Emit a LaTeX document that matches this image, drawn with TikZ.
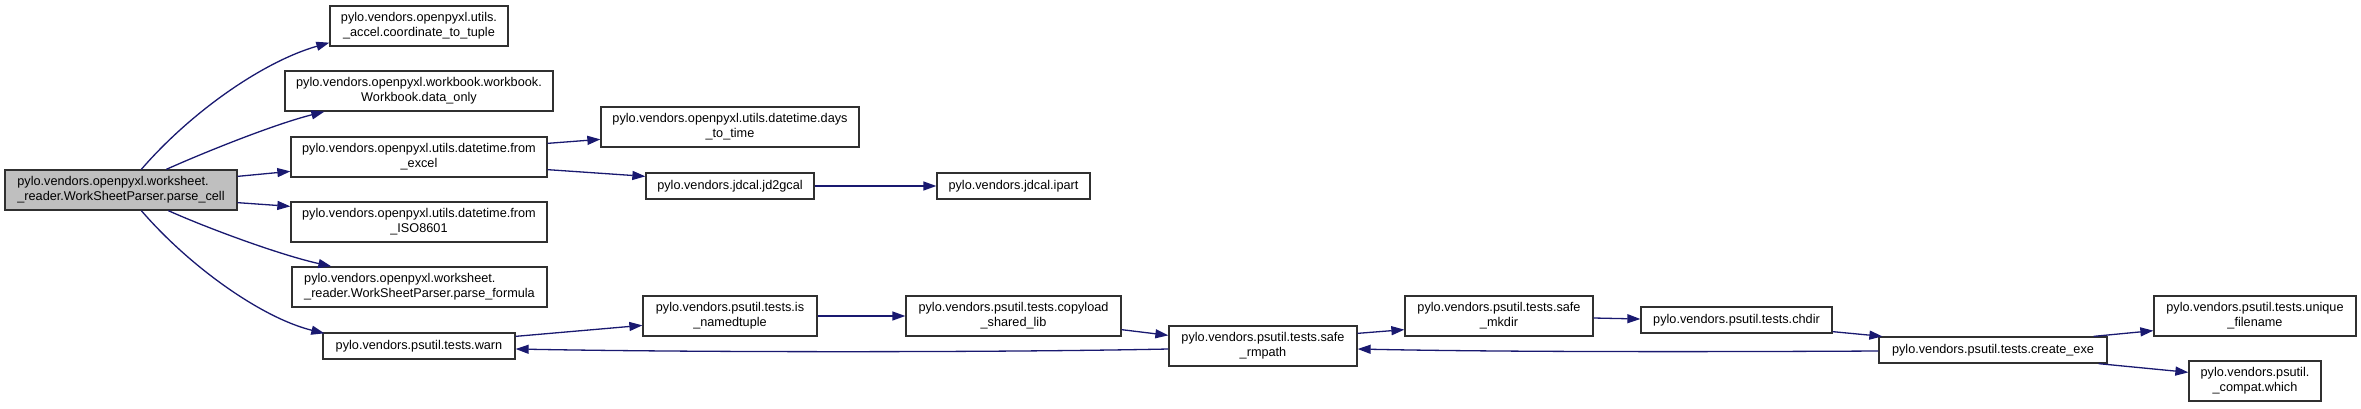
\documentclass[tikz,border=0pt]{standalone}
\usepackage{fontspec}
\setmainfont{Liberation Sans}
\usetikzlibrary{arrows.meta}
\definecolor{edgeblue}{HTML}{191970}
\definecolor{maingray}{HTML}{BFBFBF}
\definecolor{boxline}{HTML}{303030}
\tikzset{
  fnbox/.style={draw=boxline, line width=1.3pt, fill=white, inner sep=0pt, align=center,
    font=\fontsize{12.7}{15}\selectfont, minimum height=40pt},
  onebox/.style={fnbox, minimum height=26pt},
  call/.style={draw=edgeblue, line width=1.3pt, -{Triangle[length=13pt,width=9pt]}}
}
\begin{document}
\begin{tikzpicture}[x=1pt,y=-1pt]
\useasboundingbox (0,0) rectangle (2361,408);
% nodes
\node[fnbox, fill=maingray, align=left, minimum width=232pt] (main) at (121,190) {pylo.vendors.openpyxl.worksheet.\\\_reader.WorkSheetParser.parse\_cell};
\node[fnbox, minimum width=178pt] (c2t) at (419,26) {pylo.vendors.openpyxl.utils.\\\_accel.coordinate\_to\_tuple};
\node[fnbox, minimum width=268pt] (donly) at (419,91) {pylo.vendors.openpyxl.workbook.workbook.\\Workbook.data\_only};
\node[fnbox, minimum width=256pt] (fexcel) at (419,157) {pylo.vendors.openpyxl.utils.datetime.from\\\_excel};
\node[fnbox, minimum width=256pt] (fiso) at (419,222) {pylo.vendors.openpyxl.utils.datetime.from\\\_ISO8601};
\node[fnbox, align=left, minimum width=255pt] (pformula) at (419.5,287) {pylo.vendors.openpyxl.worksheet.\\\_reader.WorkSheetParser.parse\_formula};
\node[onebox, minimum width=192pt] (warn) at (419,346) {pylo.vendors.psutil.tests.warn};
\node[fnbox, minimum width=258pt] (days) at (730,127) {pylo.vendors.openpyxl.utils.datetime.days\\\_to\_time};
\node[onebox, minimum width=168pt] (jd2) at (730,186) {pylo.vendors.jdcal.jd2gcal};
\node[onebox, minimum width=153pt] (ipart) at (1013.5,186) {pylo.vendors.jdcal.ipart};
\node[fnbox, minimum width=174pt] (isnt) at (730,316) {pylo.vendors.psutil.tests.is\\\_namedtuple};
\node[fnbox, minimum width=215pt] (copy) at (1013.5,316) {pylo.vendors.psutil.tests.copyload\\\_shared\_lib};
\node[fnbox, minimum width=188pt] (rmpath) at (1263,346) {pylo.vendors.psutil.tests.safe\\\_rmpath};
\node[fnbox, minimum width=188pt] (mkdir) at (1499,316) {pylo.vendors.psutil.tests.safe\\\_mkdir};
\node[onebox, minimum width=191pt] (chdir) at (1736.5,320) {pylo.vendors.psutil.tests.chdir};
\node[onebox, minimum width=228pt] (cexe) at (1993,350) {pylo.vendors.psutil.tests.create\_exe};
\node[fnbox, minimum width=202pt] (uniq) at (2255,316) {pylo.vendors.psutil.tests.unique\\\_filename};
\node[fnbox, minimum width=132pt] (which) at (2255,381) {pylo.vendors.psutil.\\\_compat.which};
% edges
\draw[call] ([xshift=137pt]main.north west) .. controls (190,113) and (262,62) .. ([yshift=4pt]c2t.south west);
\draw[call] ([xshift=162pt]main.north west) .. controls (205,152) and (275,124) .. ([xshift=40pt]donly.south west);
\draw[call] ([yshift=-7pt]main.north east) -- ([yshift=-35pt]fexcel.north west);
\draw[call] ([yshift=8pt]main.south east) -- ([yshift=-5pt]fiso.north west);
\draw[call] ([xshift=164pt]main.south west) .. controls (207,228) and (280,255) .. ([xshift=40pt]pformula.north west);
\draw[call] ([xshift=137pt]main.south west) .. controls (190,267) and (262,318) .. ([xshift=2pt,yshift=-1pt]warn.north west);
\draw[call] ([yshift=-7pt]fexcel.north east) -- ([yshift=-33pt]days.north west);
\draw[call] ([yshift=8pt]fexcel.south east) -- ([yshift=-4pt]jd2.north west);
\draw[call] (jd2.east) -- (ipart.west);
\draw[call] ([yshift=-4pt]warn.north east) -- ([yshift=-30pt]isnt.north west);
\draw[call] (isnt.east) -- (copy.west);
\draw[call] ([yshift=7pt]copy.south east) -- ([yshift=-10pt]rmpath.north west);
\draw[call] ([yshift=-8pt]rmpath.north east) -- ([yshift=7pt]mkdir.south west);
\draw[call] ([yshift=-3pt]rmpath.west) .. controls (1000,352.5) and (700,352.5) .. ([yshift=-3pt]warn.east);
\draw[call] ([yshift=-2pt]mkdir.east) -- ([yshift=1pt]chdir.west);
\draw[call] ([yshift=2pt]chdir.south east) -- ([xshift=4pt]cexe.north west);
\draw[call] ([yshift=-1pt]cexe.west) .. controls (1700,352) and (1500,352) .. ([yshift=-3pt]rmpath.east);
\draw[call] ([xshift=-14pt]cexe.north east) -- ([yshift=6pt]uniq.south west);
\draw[call] ([xshift=-9pt]cexe.south east) -- ([yshift=-12pt]which.north west);
\end{tikzpicture}
\end{document}
